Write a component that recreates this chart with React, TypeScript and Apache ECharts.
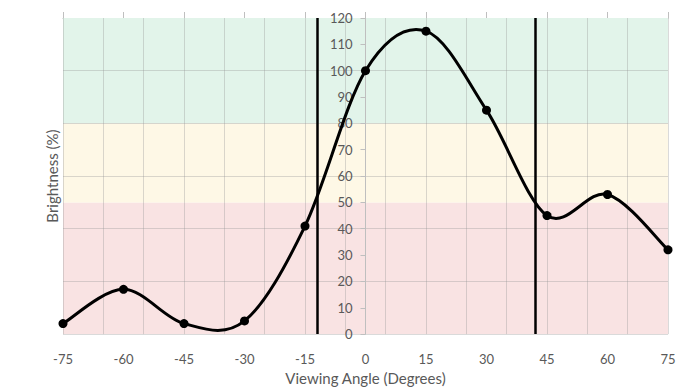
import React, { useEffect, useRef } from "react";
import * as echarts from "echarts";

const angles = [-75, -60, -45, -30, -15, 0, 15, 30, 45, 60, 75];
const brightness = [4, 17, 4, 5, 41, 100, 115, 85, 45, 53, 32];
const xTicks = { min: -75, max: 75, interval: 15 };
const yTicks = { min: 0, max: 120, interval: 10 };
const verticalGrid = [-75, -65, -55, -45, -35, -25, -15, -5, 5, 15, 25, 35, 45, 55, 65, 75];
const horizontalGrid = [0, 20, 40, 60, 80, 100];
const bandLimits = [
  [0, 50],
  [50, 80],
  [80, 120],
];
const bandColors = ["#f9e3e3", "#fef8e6", "#e2f4ea"];
const referenceAngles = [-12, 42];

const FONT = "Lato";
const TEXT = "#595959";

const GRID_LEFT = 63;
const GRID_WIDTH = 605;

export default function App() {
  const ref = useRef<HTMLDivElement>(null);
  useEffect(() => {
    if (!ref.current) return;
    const chart = echarts.init(ref.current, undefined, { renderer: "svg" });
    const zeroOffset = ((0 - xTicks.min) / (xTicks.max - xTicks.min)) * GRID_WIDTH;
    chart.setOption({
      animation: false,
      backgroundColor: "#ffffff",
      textStyle: { fontFamily: FONT },
      grid: { left: GRID_LEFT, top: 18, width: GRID_WIDTH, height: 318 },
      xAxis: [
        {
          type: "value",
          position: "bottom",
          min: xTicks.min,
          max: xTicks.max,
          interval: xTicks.interval,
          axisLine: { show: false },
          axisTick: { show: false },
          splitLine: { show: false },
          axisLabel: { color: TEXT, fontSize: 13, margin: 18, fontFamily: FONT },
          name: "Viewing Angle (Degrees)",
          nameLocation: "middle",
          nameGap: 35,
          nameTextStyle: { color: TEXT, fontSize: 15, fontFamily: FONT },
        },
        {
          type: "value",
          position: "top",
          min: xTicks.min,
          max: xTicks.max,
          interval: xTicks.interval,
          axisLine: { show: true, onZero: false, lineStyle: { color: "#bfbfbf", width: 1 } },
          axisTick: { show: true, inside: false, length: 6, lineStyle: { color: "#bfbfbf" } },
          splitLine: { show: false },
          axisLabel: { show: false },
        },
      ],
      yAxis: [
        {
          type: "value",
          position: "left",
          offset: -zeroOffset,
          z: 10,
          min: yTicks.min,
          max: yTicks.max,
          interval: yTicks.interval,
          axisLine: { show: true, onZero: false, lineStyle: { color: "#bfbfbf", width: 1 } },
          axisTick: { show: true, inside: false, length: 5, lineStyle: { color: "#bfbfbf" } },
          splitLine: { show: false },
          axisLabel: { color: TEXT, fontSize: 13, margin: 13, fontFamily: FONT },
        },
        {
          type: "value",
          position: "left",
          min: yTicks.min,
          max: yTicks.max,
          interval: yTicks.interval,
          axisLine: { show: false },
          axisTick: { show: false },
          splitLine: { show: false },
          axisLabel: { show: false },
          name: "Brightness (%)",
          nameLocation: "middle",
          nameGap: 4,
          nameTextStyle: { color: TEXT, fontSize: 15, fontFamily: FONT },
        },
      ],
      series: [
        {
          type: "line",
          data: [],
          z: 1,
          silent: true,
          markArea: {
            silent: true,
            data: bandLimits.map((b, i) => [
              { yAxis: b[0], itemStyle: { color: bandColors[i] } },
              { yAxis: b[1] },
            ]),
          },
        },
        {
          type: "line",
          data: [],
          z: 2,
          silent: true,
          markLine: {
            silent: true,
            symbol: "none",
            label: { show: false },
            lineStyle: { color: "rgba(150,150,150,0.35)", width: 1, type: "solid" },
            data: [
              ...verticalGrid.map((v) => ({ xAxis: v })),
              ...horizontalGrid.map((v) => ({ yAxis: v })),
            ],
          },
        },
        {
          type: "line",
          data: [],
          z: 3,
          silent: true,
          markLine: {
            silent: true,
            symbol: "none",
            label: { show: false },
            lineStyle: { color: "#000000", width: 2.5, type: "solid" },
            data: referenceAngles.map((v) => ({ xAxis: v })),
          },
        },
        {
          type: "custom",
          z: 11,
          silent: true,
          clip: false,
          data: angles.map((a, i) => [a, brightness[i]]),
          encode: { x: 0, y: 1 },
          renderItem: (params: any, api: any) => {
            if (params.dataIndex !== 0) return null;
            const pts = angles.map((a, i) => api.coord([a, brightness[i]]));
            const n = pts.length;
            let d = `M${pts[0][0]},${pts[0][1]}`;
            for (let i = 0; i < n - 1; i++) {
              const p0 = pts[Math.max(i - 1, 0)];
              const p1 = pts[i];
              const p2 = pts[i + 1];
              const p3 = pts[Math.min(i + 2, n - 1)];
              const c1x = p1[0] + (p2[0] - p0[0]) / 6;
              const c1y = p1[1] + (p2[1] - p0[1]) / 6;
              const c2x = p2[0] - (p3[0] - p1[0]) / 6;
              const c2y = p2[1] - (p3[1] - p1[1]) / 6;
              d += ` C${c1x},${c1y} ${c2x},${c2y} ${p2[0]},${p2[1]}`;
            }
            return {
              type: "path",
              shape: { pathData: d },
              style: { fill: "none", stroke: "#000000", lineWidth: 3 },
            };
          },
        },
        {
          type: "scatter",
          z: 12,
          silent: true,
          data: angles.map((a, i) => [a, brightness[i]]),
          symbol: "circle",
          symbolSize: 9,
          itemStyle: { color: "#000000", opacity: 1 },
        },
      ],
    });
    return () => chart.dispose();
  }, []);
  return (
    <div
      ref={ref}
      style={{ position: "fixed", left: 0, top: 0, width: 695, height: 390 }}
    />
  );
}
